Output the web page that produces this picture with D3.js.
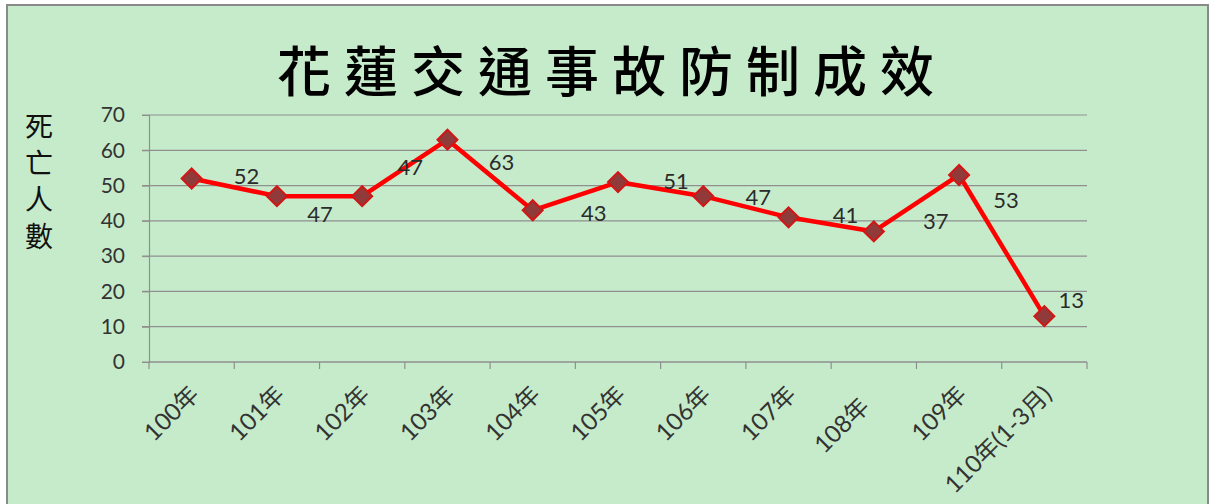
<!DOCTYPE html>
<html><head><meta charset="utf-8">
<script src="https://cdn.jsdelivr.net/npm/d3@7"></script>
<style>
html,body{margin:0;padding:0;background:#fff;}
svg{display:block;}
</style></head>
<body>
<script>
const categories = ["100年","101年","102年","103年","104年","105年","106年","107年","108年","109年","110年(1-3月)"];
const deaths = [52, 47, 47, 63, 43, 51, 47, 41, 37, 53, 13];
const yTicks = [0, 10, 20, 30, 40, 50, 60, 70];
const title = "花蓮交通事故防制成效";
const yTitle = ["死","亡","人","數"];
// manual data-label offsets (px) as placed in the original
const labelDx = [55, 43, 48, 54, 61, 58, 55, 57, 62, 47, 27];
const labelDy = [-3, 17, -30, 22, 2, -2, 0, -3, -11, 25, -17];
// category-label shift along its slanted baseline (px), as in the original
const xLabelShift = [0, 0, 0, 0, 0, 0, 0, 0, -17, 0, 0];

(function(){
const W = 1210, H = 504;
const svg = d3.select("body").append("svg").attr("width", W).attr("height", H);

// background panel
svg.append("rect").attr("x", 7).attr("y", 5).attr("width", 1201).attr("height", 510)
  .attr("fill", "#c6ebcb").attr("stroke", "#8a8a8a").attr("stroke-width", 2);

const pLeft = 149, pRight = 1087, pTop = 115, pBottom = 362;
const x = d3.scaleBand().domain(categories).range([pLeft, pRight]).padding(0);
const y = d3.scaleLinear().domain([0, 70]).range([pBottom, pTop]);
const numFont = "Lato, 'Noto Sans CJK TC', sans-serif";

// title
svg.append("text").attr("x", 612).attr("y", 68).attr("text-anchor", "middle")
  .attr("dominant-baseline", "central")
  .attr("font-family", "'Noto Sans CJK TC', sans-serif").attr("font-size", 54)
  .attr("font-weight", 500).attr("letter-spacing", 13).attr("fill", "#000")
  .text(title);

// y title (vertical stack)
svg.append("g").selectAll("text").data(yTitle).join("text")
  .attr("x", 39).attr("y", (d, i) => 125 + i * 36.5)
  .attr("text-anchor", "middle").attr("dominant-baseline", "central")
  .attr("font-family", "'Noto Sans CJK TC', sans-serif").attr("font-size", 28)
  .attr("fill", "#111").text(d => d);

// gridlines
svg.append("g").selectAll("line").data(yTicks).join("line")
  .attr("x1", pLeft - 7).attr("x2", pRight).attr("y1", d => y(d)).attr("y2", d => y(d))
  .attr("stroke", "#8f8f8f").attr("stroke-width", 1.2);

// y axis
const yAxis = svg.append("g").attr("transform", `translate(${pLeft},0)`)
  .call(d3.axisLeft(y).tickValues(yTicks).tickSize(7).tickPadding(17));
yAxis.select(".domain").attr("stroke", "#8f8f8f").attr("stroke-width", 1.2);
yAxis.selectAll(".tick line").attr("stroke", "#8f8f8f");
yAxis.selectAll("text").attr("font-family", numFont).attr("font-size", 21).attr("fill", "#333");

// x axis: ticks at category boundaries
const xg = svg.append("g");
xg.append("line").attr("x1", pLeft).attr("x2", pRight).attr("y1", pBottom).attr("y2", pBottom)
  .attr("stroke", "#8f8f8f").attr("stroke-width", 1.2);
const bounds = categories.map(c => x(c)).concat([x(categories[categories.length - 1]) + x.bandwidth()]);
xg.selectAll("line.tk").data(bounds).join("line").attr("class", "tk")
  .attr("x1", d => d).attr("x2", d => d).attr("y1", pBottom).attr("y2", pBottom + 7)
  .attr("stroke", "#8f8f8f").attr("stroke-width", 1.2);
xg.selectAll("text").data(categories).join("text")
  .attr("transform", d => `translate(${x(d) + x.bandwidth() / 2 + 3},${pBottom + 28}) rotate(-45)`)
  .attr("text-anchor", "end").attr("dy", "0.35em")
  .attr("dx", (d, i) => xLabelShift[i])
  .attr("font-family", numFont).attr("font-size", 24).attr("fill", "#333")
  .text(d => d);

// line
const cx = i => x(categories[i]) + x.bandwidth() / 2;
const line = d3.line().x((d, i) => cx(i)).y(d => y(d));
svg.append("path").datum(deaths).attr("d", line).attr("fill", "none")
  .attr("stroke", "#ff0000").attr("stroke-width", 4.5).attr("stroke-linejoin", "round");

// markers (diamonds)
const diamond = d3.symbol().type(d3.symbolSquare).size(200);
svg.append("g").selectAll("path").data(deaths).join("path")
  .attr("d", diamond)
  .attr("transform", (d, i) => `translate(${cx(i)},${y(d)}) rotate(45)`)
  .attr("fill", "#913a3a").attr("stroke", "#d31515").attr("stroke-width", 2);

// data labels
svg.append("g").selectAll("text").data(deaths).join("text")
  .attr("x", (d, i) => cx(i) + labelDx[i]).attr("y", (d, i) => y(d) + labelDy[i])
  .attr("text-anchor", "middle").attr("dominant-baseline", "central")
  .attr("font-family", numFont).attr("font-size", 22).attr("fill", "#2b2b2b")
  .text(d => d);
})();
</script>
</body></html>
